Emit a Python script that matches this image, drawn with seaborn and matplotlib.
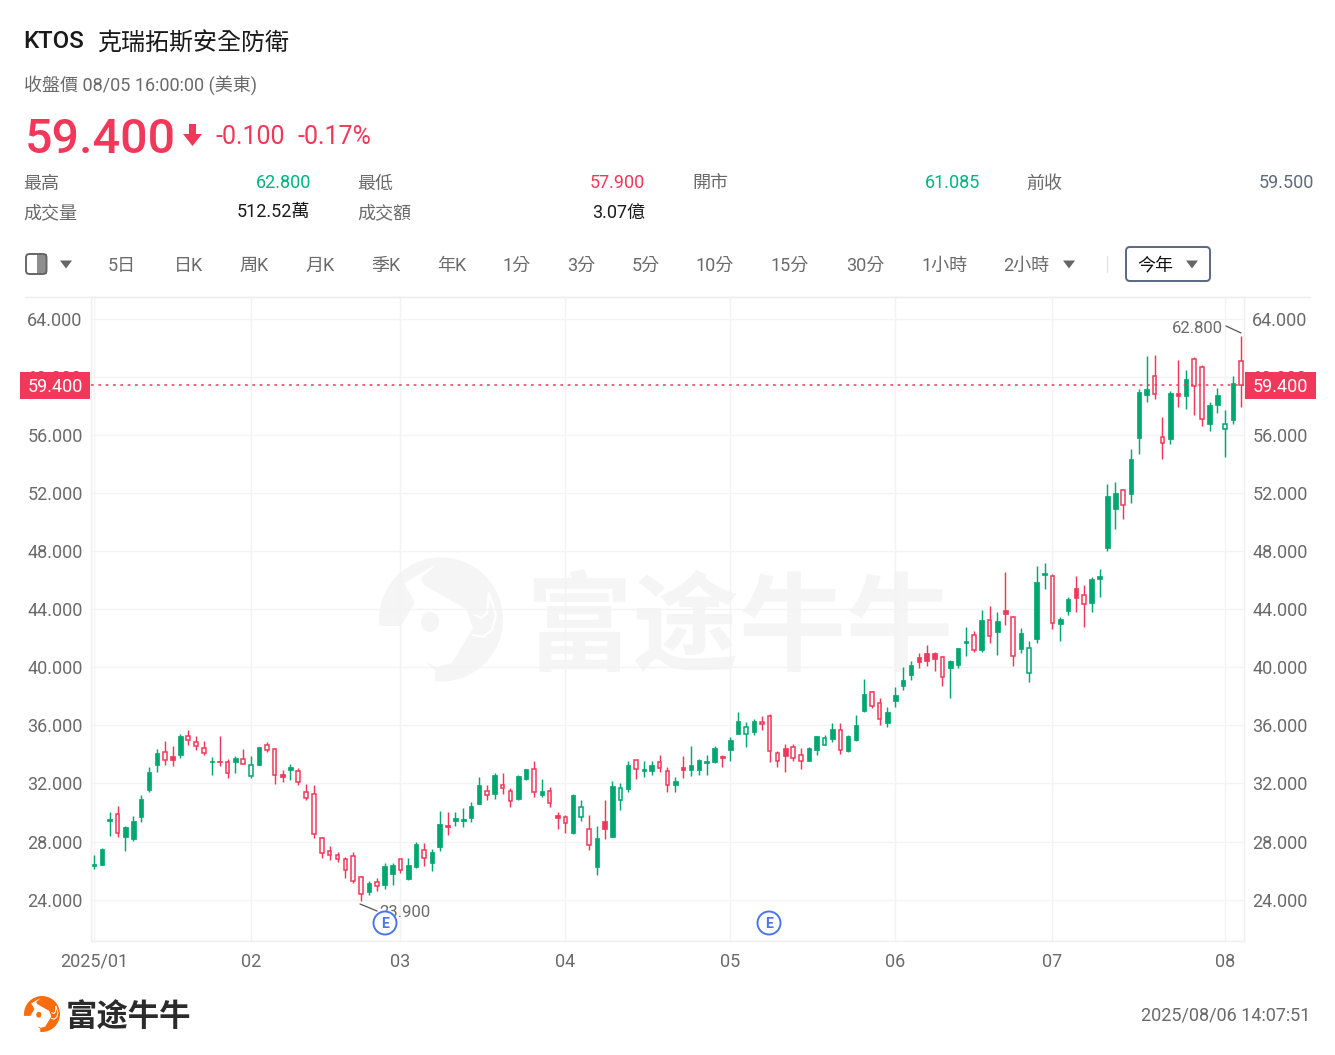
import matplotlib
matplotlib.use("Agg")
import matplotlib.pyplot as plt
from matplotlib.patches import Circle, Ellipse, FancyBboxPatch, Polygon, Rectangle
import pandas as pd
import seaborn as sns

# ---------- data ----------
highs = [27.06,27.57,30.02,30.44,29.06,29.75,31.24,33.14,34.38,34.89,
34.61,35.37,35.71,35.30,34.91,33.83,35.30,33.70,33.92,34.34,
33.88,34.54,34.87,34.43,32.91,33.37,33.08,31.93,31.86,28.30,
27.73,27.27,26.93,27.27,25.62,25.27,25.50,26.54,26.54,26.83,
26.85,27.95,27.88,27.47,30.09,30.02,30.04,30.29,30.73,32.43,
31.88,32.70,32.70,31.67,32.61,33.02,33.55,32.31,31.74,30.04,
29.83,31.26,30.84,29.81,29.08,30.87,32.17,32.06,33.55,33.62,
33.53,33.53,33.96,33.16,32.43,33.90,34.58,33.67,33.94,34.58,
33.93,35.19,36.89,36.22,36.45,36.61,36.80,34.23,34.73,34.73,
34.41,34.48,35.28,35.33,36.16,36.16,35.35,36.73,39.21,38.36,
37.88,37.26,38.63,40.01,40.42,40.97,41.53,41.02,40.74,40.52,
41.34,42.76,42.47,43.91,44.19,43.80,46.55,43.50,42.68,41.81,
47.00,47.16,46.40,43.44,44.82,46.29,45.67,46.19,46.77,52.62,
52.74,52.30,55.01,59.14,61.39,61.50,57.21,58.98,61.16,60.47,
61.32,60.77,58.22,59.21,57.72,60.06,62.80]
body_tops = [26.47,27.52,29.56,29.89,28.99,29.40,30.94,32.82,34.11,34.15,
33.88,35.30,35.26,34.87,34.43,33.53,33.58,33.47,33.72,33.70,
33.26,34.48,34.64,34.36,32.66,33.14,32.89,31.40,31.26,28.28,
27.34,27.09,26.79,27.04,25.57,25.16,25.20,26.31,26.42,26.79,
26.39,27.86,27.45,27.29,29.19,29.15,29.60,29.54,30.45,31.90,
31.46,32.59,31.90,31.49,32.54,32.98,32.98,31.46,31.46,29.81,
29.67,31.19,30.41,28.89,28.25,29.44,31.83,31.69,33.25,33.60,
32.98,33.30,33.46,32.89,32.15,33.16,33.30,33.62,33.53,34.45,
33.86,34.96,36.29,35.88,36.29,36.25,36.61,34.07,34.46,34.48,
33.95,34.43,35.24,35.12,35.76,35.67,35.24,36.04,38.15,38.29,
37.53,36.91,38.08,39.14,40.15,40.70,40.95,40.97,40.70,40.42,
41.30,41.80,42.19,43.27,43.22,43.15,43.91,43.45,42.34,41.33,
45.85,46.47,46.31,43.30,44.68,45.44,44.98,46.06,46.31,51.75,
52.02,52.18,54.32,58.95,59.14,60.01,55.83,58.84,58.84,59.83,
61.23,60.63,58.06,58.73,56.73,59.55,61.085]
body_bots = [26.35,26.40,29.40,28.60,28.30,28.21,29.68,31.58,33.28,33.60,
33.60,33.99,34.98,34.57,34.11,33.47,33.47,32.75,33.47,33.37,
32.48,33.28,34.29,32.55,32.43,32.91,32.07,30.99,28.55,27.18,
27.06,26.83,26.01,25.27,24.40,24.54,24.97,25.00,25.75,26.03,
25.43,26.28,26.87,26.53,27.63,29.03,29.44,29.40,29.65,30.59,
31.23,31.30,31.67,30.80,30.91,32.29,31.42,31.21,30.66,29.65,
29.26,28.57,29.67,27.79,26.23,28.89,28.34,30.89,31.65,32.98,
32.89,32.84,33.07,31.90,31.92,32.93,32.91,32.96,33.44,33.46,
33.77,34.32,35.42,35.37,35.51,36.06,34.20,33.58,33.88,33.75,
33.52,33.54,34.27,34.64,35.05,34.30,34.25,34.96,36.98,37.30,
36.43,36.13,37.67,38.73,39.48,40.35,40.45,40.56,39.30,39.92,
40.15,41.64,41.20,41.20,42.14,42.44,43.64,40.77,41.26,39.59,
41.93,46.38,43.07,42.96,43.90,44.77,44.36,44.45,46.08,48.21,
50.88,51.15,51.91,55.76,58.73,58.79,55.42,55.74,58.66,58.68,
59.34,57.10,56.77,58.04,56.38,57.03,59.40]
lows = [26.12,26.37,28.37,28.32,27.34,28.03,29.33,31.40,32.80,33.24,
33.19,33.74,34.68,34.29,33.95,32.55,33.19,32.36,32.69,33.33,
32.36,33.26,34.15,31.95,32.11,32.27,31.86,30.85,28.26,26.88,
26.72,26.58,25.50,25.16,23.90,24.31,24.58,24.77,25.04,25.87,
25.36,26.21,26.32,25.98,27.33,28.43,29.08,29.03,29.38,30.57,
30.87,30.94,31.28,30.41,30.89,32.27,31.10,31.05,30.41,28.89,
28.57,28.50,29.44,27.42,25.73,28.18,28.32,30.20,31.42,32.29,
32.47,32.59,32.82,31.44,31.44,32.40,32.54,32.57,32.61,33.44,
33.10,33.56,35.40,34.50,35.31,35.65,33.45,33.13,32.80,33.58,
33.01,33.52,33.97,34.62,34.82,34.00,34.14,34.92,36.89,37.19,
35.99,35.86,37.26,38.40,39.09,39.92,40.10,39.74,38.68,37.85,
39.92,40.74,41.04,41.04,41.66,40.81,42.92,40.06,40.96,38.97,
41.70,45.37,42.62,41.83,43.62,43.83,42.78,43.83,44.82,47.98,
49.50,50.19,51.29,54.66,58.22,58.45,54.34,55.35,57.94,57.76,
57.33,56.57,56.29,57.49,54.48,56.71,57.90]
# G filled green, g hollow green, R filled red, r hollow red
styles = list("GGGrGGGGGr" "RGrrrGRrGr" "gGrrRGrrrr" "rrrrrGrGGr" "GGrGGRGGGG"
              "rGrrGGrGrR" "rGgrGRGgGr" "GGrrGRGGGG" "RGGgGrrrRr" "rGGgGrGGGr"
              "rGGGGRRRrG" "GGrGrGRrGg" "GGrGGRrGGG" "GrGGGrrGRG" "rrGGgGr")
month_positions = [0, 20, 39, 60, 81, 102, 122, 144]
month_labels = ["2025/01", "02", "03", "04", "05", "06", "07", "08"]
price_ticks = [24, 28, 32, 36, 40, 44, 48, 52, 56, 60, 64]
last_close = 59.4
year_high = 62.8
year_low = 23.9
periods = ["5日", "日K", "周K", "月K", "季K", "年K", "1分", "3分", "5分", "10分", "15分", "30分", "1小時", "2小時"]
period_x = [122, 188.5, 254, 320, 386, 452, 517, 581, 646, 715, 790, 865, 945, 1026.5]

# ---------- style ----------
RED = "#F2385A"
GREEN = "#00A76F"
GRID = "#F3F3F3"
GRAY = "#6A6A6A"
W, H = 1335, 1055
sns.set_theme(style="white")
FONTS = ["Roboto", "Noto Sans CJK TC", "DejaVu Sans"]
plt.rcParams["font.family"] = FONTS

df = pd.DataFrame({"i": range(len(highs)), "high": highs, "low": lows,
                   "top": body_tops, "bot": body_bots, "style": styles})
df["body"] = df["top"] - df["bot"]
df["color"] = df["style"].map({"G": GREEN, "g": GREEN, "R": RED, "r": RED})

fig = plt.figure(figsize=(W / 100, H / 100), dpi=100, facecolor="white")


def pixel_axes(z):
    a = fig.add_axes([0, 0, 1, 1], zorder=z)
    a.set_xlim(0, W)
    a.set_ylim(H, 0)
    a.axis("off")
    a.patch.set_alpha(0)
    return a


back = pixel_axes(0)
front = pixel_axes(3)


def logo(a, cx, cy, r, color):
    f = r / 62
    pt = lambda x, y: (cx + (x - 441) * f, cy + (y - 619.5) * f)
    a.add_patch(Circle((cx, cy), r, fc=color, ec="none"))
    cut = [(437, 564), (404, 583), (415, 602), (401, 626), (378, 626), (370, 632), (374, 690),
           (435, 690), (435, 670), (425, 662), (437, 667), (452, 663), (473, 628), (466, 609),
           (424, 585), (421, 578)]
    a.add_patch(Polygon([pt(*p) for p in cut], closed=True, fc="white", ec="none"))
    a.add_patch(Ellipse(pt(430, 622), 18 * f, 20 * f, fc=color, ec="none"))
    for path in ([(489, 593), (496, 615), (492, 630), (483, 637), (473, 635)],
                 [(489, 593), (487, 613), (481, 618), (475, 615)]):
        a.plot(*zip(*[pt(*p) for p in path]), color="white", lw=1.6 * max(f, 0.45))


logo(back, 441, 619.5, 62, "#F5F5F5")
back.text(739, 631, "富途牛牛", fontsize=77, fontweight="bold", color="#F5F5F5",
          ha="center", va="center", family=["Noto Sans CJK SC", "DejaVu Sans"])

# ---------- main chart ----------
PX_PER_UNIT = (899.7 - 318.5) / 40
ax = fig.add_axes([91 / W, 1 - 941 / H, (1244 - 91) / W, (941 - 297) / H], zorder=1)
ax.patch.set_alpha(0)
ax.vlines(df["i"], df["low"], df["high"], colors=df["color"], lw=1.05, zorder=2)
sns.barplot(data=df, x="i", y="body", bottom=df["bot"], native_scale=True, width=0.58,
            errorbar=None, ax=ax, zorder=3, color=GREEN)
for bar, st, col in zip(ax.patches, df["style"], df["color"]):
    hollow = st in "gr"
    bar.set_facecolor("white" if hollow else col)
    bar.set_edgecolor(col)
    bar.set_alpha(1)
    if hollow:
        bar.set_x(bar.get_x() + 0.06)
        bar.set_width(bar.get_width() - 0.12)
        bar.set_linewidth(1.1)
    else:
        bar.set_linewidth(0.5)

ax.set_xlim(-3 / 7.856, 1150 / 7.856)
ax.set_ylim(24 - (941 - 899.7) / PX_PER_UNIT, 64 + (318.5 - 297) / PX_PER_UNIT)
ax.set_yticks(price_ticks, [f"{v:.3f}" for v in price_ticks])
ax.set_xticks(month_positions, month_labels)
ax.set_xlabel("")
ax.set_ylabel("")
ax.tick_params(axis="y", length=0, labelsize=13, labelcolor=GRAY, pad=6, labelleft=True, labelright=True)
ax.tick_params(axis="x", length=0, labelsize=13, labelcolor=GRAY, pad=8.5)
ax.grid(True, color=GRID, lw=1.0, zorder=0)
ax.set_axisbelow(True)
for s in ax.spines.values():
    s.set_color("#EFEFEF")
    s.set_linewidth(1.0)
ax.axhline(last_close, color=RED, lw=1.1, ls=(0, (1.8, 3.0)), zorder=4)


def T(x, y, s, size=13, color=GRAY, ha="left", weight="normal", **kw):
    kw.setdefault("family", FONTS)
    front.text(x, y, s, fontsize=size, color=color, ha=ha, va="center", fontweight=weight, **kw)


# ---------- header ----------
T(23.5, 42, "KTOS", 17.3, "#1A1A1A", weight="medium")
T(97, 44, "克瑞拓斯安全防衛", 17.3, "#1A1A1A", weight="medium")
T(24, 85, "收盤價 08/05 16:00:00 (美東)", 13, GRAY)
T(24.5, 140, "59.400", 34.8, RED, weight="medium")
front.add_patch(Polygon([(189, 124), (196, 124), (196, 134), (202, 134), (192.5, 146), (183, 134), (189, 134)],
                        closed=True, fc=RED, ec="none"))
T(216, 136.5, "-0.100", 18, RED)
T(298, 136.5, "-0.17%", 18, RED)

for x, y, s in [(23.5, 184, "最高"), (357.5, 184, "最低"), (692.5, 184, "開市"), (1026.5, 184, "前收"),
                (23.5, 213, "成交量"), (357.5, 213, "成交額")]:
    T(x, y, s, 13, GRAY)
for x, y, s, c in [(311, 183, "62.800", "#00B383"), (645, 183, "57.900", RED), (980, 183, "61.085", "#00B383"),
                   (1314, 183, "59.500", "#5F6B7A"), (310, 212.5, "512.52萬", "#1A1A1A"), (645, 212.5, "3.07億", "#1A1A1A")]:
    T(x, y, s, 13, c, ha="right")

# ---------- toolbar ----------
front.add_patch(Rectangle((36.5, 254), 10, 20, fc="#8E8E8E", ec="none"))
front.add_patch(FancyBboxPatch((26, 254), 20.5, 20, boxstyle="round,pad=0,rounding_size=3.5",
                               fc="none", ec="#666666", lw=1.4))


def tri(cx, cy, w=12, h=8, c="#666666"):
    front.add_patch(Polygon([(cx - w / 2, cy - h / 2), (cx + w / 2, cy - h / 2), (cx, cy + h / 2)],
                            closed=True, fc=c, ec="none"))


tri(66, 264.5)
for x, s in zip(period_x, periods):
    T(x, 266, s, 13, GRAY, ha="center")
tri(1069, 264.5)
front.plot([1107, 1107], [256, 272], color="#E6E6E6", lw=1)
front.add_patch(FancyBboxPatch((1126, 247), 84, 34, boxstyle="round,pad=0,rounding_size=4",
                               fc="white", ec="#5C6780", lw=1.4))
T(1155, 266, "今年", 13, "#111111", ha="center")
tri(1192, 264.5)
front.plot([25, 1310], [297, 297], color="#EDEDED", lw=1)

# ---------- price tags and annotations ----------
for x0, x1 in [(20, 90), (1245, 1316)]:
    front.add_patch(Rectangle((x0, 372), x1 - x0, 27, fc=RED, ec="none", zorder=5))
    T((x0 + x1) / 2, 387, f"{last_close:.3f}", 13, "white", ha="center", zorder=6)
front.plot([1226, 1241], [326, 333], color="#555555", lw=0.9)
T(1223, 328.5, f"{year_high:.3f}", 12, GRAY, ha="right")
front.plot([360, 377], [904, 911], color="#555555", lw=0.9)
T(379, 912.5, f"{year_low:.3f}", 12, GRAY)
for cx in [385, 769]:
    front.add_patch(Circle((cx, 923), 11.5, fc="white", ec="#4A76E8", lw=1.4, zorder=6))
    T(cx, 923.5, "E", 10, "#4A76E8", ha="center", weight="bold", zorder=7)

# ---------- footer ----------
logo(front, 42, 1014, 18, "#FA6D0F")
T(66, 1017, "富途牛牛", 22.6, "#2B2B2B", weight="bold", family=["Noto Sans CJK SC", "DejaVu Sans"])
T(1310, 1015.5, "2025/08/06 14:07:51", 13, GRAY, ha="right")

fig.savefig("out.png", dpi=100, facecolor="white")
